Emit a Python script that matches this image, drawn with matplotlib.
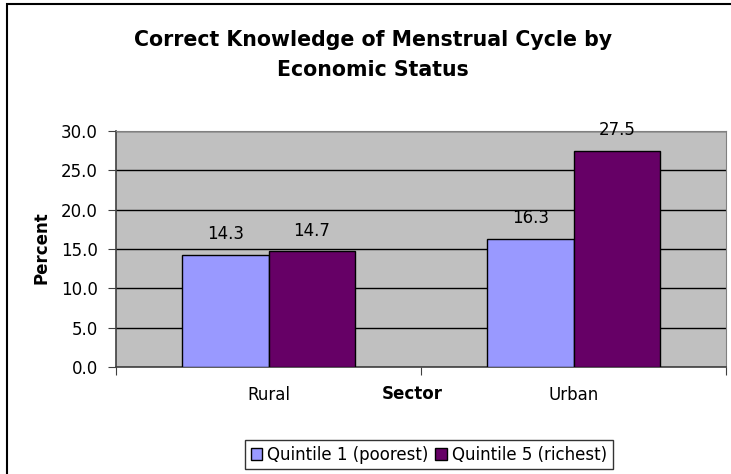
import matplotlib
matplotlib.use("Agg")
import matplotlib.pyplot as plt
import numpy as np
from matplotlib.patches import Rectangle

plt.rcParams['font.family'] = ['DejaVu Sans']

sectors = ['Rural', 'Urban']
series_names = ['Quintile 1 (poorest)', 'Quintile 5 (richest)']
poorest = [14.3, 16.3]
richest = [14.7, 27.5]
colors = ['#9999FF', '#660066']
y_ticks = [0, 5, 10, 15, 20, 25, 30]

fs = 12

fig = plt.figure(figsize=(7.31, 4.74), dpi=100)
ax = fig.add_axes([116 / 731, 1 - 367 / 474, 610 / 731, 236 / 474])

# outer chart border (right/bottom edges fall outside the image)
fig.patches.append(Rectangle((7 / 731, -0.2), 1.5, 1.2 - 4 / 474, transform=fig.transFigure,
                             fill=False, edgecolor='black', linewidth=1.5, zorder=0))

x = np.arange(len(sectors))
w = 0.284
ax.set_facecolor('#C0C0C0')
for i, vals in enumerate([poorest, richest]):
    pos = x + (i - 0.5) * w
    ax.bar(pos, vals, width=w, color=colors[i], edgecolor='black', linewidth=1,
           label=series_names[i], zorder=3)
    for xp, v in zip(pos, vals):
        ax.annotate(f'{v:.1f}', (xp, v), xytext=(0, 15), textcoords='offset points',
                    ha='center', va='center', fontsize=fs)

ax.set_xlim(-0.5, 1.5)
ax.set_ylim(0, 30)
ax.set_yticks(y_ticks)
ax.set_yticklabels([f'{t:.1f}' for t in y_ticks], fontsize=fs)
ax.yaxis.grid(True, color='black', linewidth=1, zorder=1)
ax.set_axisbelow(True)

ax.set_xticks([-0.5, 0.5, 1.5])
ax.set_xticklabels([])
ax.set_xticks(x, minor=True)
ax.set_xticklabels(sectors, minor=True, fontsize=fs)
ax.tick_params(axis='x', which='minor', length=0, pad=14)
ax.tick_params(axis='x', which='major', length=6, direction='out', color='#404040')
ax.tick_params(axis='y', length=6, direction='out', color='#404040', pad=7)

for side in ['top', 'right']:
    ax.spines[side].set_color('#808080')
for side in ['left', 'bottom']:
    ax.spines[side].set_color('#404040')
    ax.spines[side].set_linewidth(1.2)

fig.text(412 / 731, 1 - 394 / 474, 'Sector', ha='center', va='center', fontsize=fs, fontweight='bold')
fig.text(41 / 731, 1 - 248 / 474, 'Percent', ha='center', va='center', rotation=90,
         fontsize=fs, fontweight='bold')
fig.text(373 / 731, 1 - 46 / 474, 'Correct Knowledge of Menstrual Cycle by', ha='center',
         va='baseline', fontsize=14.8, fontweight='bold')
fig.text(373 / 731, 1 - 76 / 474, 'Economic Status', ha='center', va='baseline',
         fontsize=14.8, fontweight='bold')

leg = fig.legend(loc='center right', bbox_to_anchor=(613 / 731, 1 - 454.5 / 474), ncol=2, fontsize=fs,
                 frameon=True, fancybox=False, handlelength=0.7, handleheight=0.7,
                 handletextpad=0.3, columnspacing=0.4, borderpad=0.35, borderaxespad=0)
leg.get_frame().set_edgecolor('black')
leg.get_frame().set_linewidth(1)

fig.savefig('out.png', dpi=100)
